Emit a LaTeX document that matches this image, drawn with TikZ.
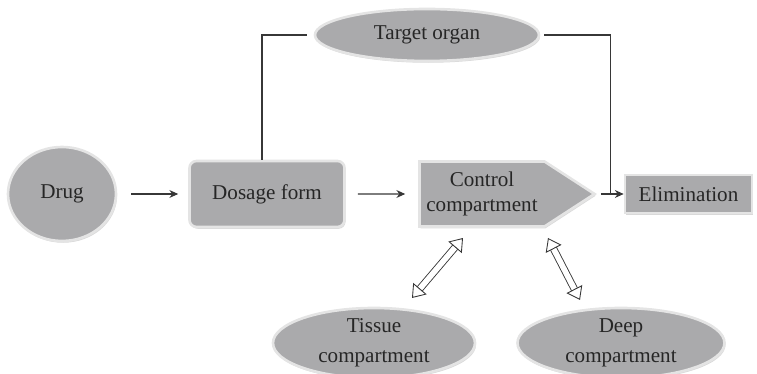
\documentclass[tikz,border=0pt]{standalone}
\usepackage{fontspec}
\setmainfont{Liberation Serif}
\usetikzlibrary{shapes.geometric,shapes.symbols,arrows.meta,shadows,calc}
\definecolor{boxgray}{RGB}{170,170,172}
\definecolor{rimgray}{RGB}{228,228,228}
\definecolor{linegray}{RGB}{55,55,55}

\begin{document}
\begin{tikzpicture}[font=\fontsize{12}{14}\selectfont,
  box/.style={fill=boxgray, draw=rimgray, line width=1.5pt, text=black!85, inner sep=0pt,
    drop shadow={opacity=0.3, shadow xshift=0.6pt, shadow yshift=-1pt}},
  oval/.style={box, ellipse},
  flow/.style={-{Stealth[length=5pt,width=4.5pt]}, draw=linegray, line width=0.6pt},
  link/.style={draw=linegray, line width=0.6pt},
  swap/.style={{Triangle[open,length=7pt,width=10pt]}-{Triangle[open,length=7pt,width=10pt]},
    double=white, double distance=3.2pt, draw=linegray, line width=0.5pt}]
\useasboundingbox (0,0) rectangle (15.14,7.48);

% Drug
\node[oval, minimum width=2.16cm, minimum height=1.88cm] (drug) at (1.24,3.6) {Drug};

% Dosage form
\node[box, rounded corners=4pt, minimum width=3.1cm, minimum height=1.32cm] (dosage) at (5.34,3.6) {Dosage form};

% Control compartment
\node[box, signal, signal to=east, signal pointer angle=66, minimum width=3.5cm, minimum height=1.3cm,
  align=center] (control) at (9.64,3.6) {Control\\compartment};

% Elimination
\node[box, minimum width=2.54cm, minimum height=0.76cm] (elim) at (13.77,3.6) {Elimination};

% Target organ
\node[oval, minimum width=4.48cm, minimum height=1.04cm] (target) at (8.54,6.78) {Target organ};

% Tissue and deep compartments
\node[oval, minimum width=4.04cm, minimum height=1.4cm, align=center] (tissue) at (7.48,0.62) {Tissue\\[3pt]compartment};
\node[oval, minimum width=4.14cm, minimum height=1.4cm, align=center] (deep) at (12.42,0.62) {Deep\\[3pt]compartment};

% Flow
\draw[flow, shorten <=0.28cm, shorten >=0.2cm] (drug) -- (dosage);
\draw[flow, shorten <=0.24cm, shorten >=0.26cm] (dosage) -- (control);
\draw[flow, shorten <=0.08cm] (control.east) -- (elim.west);
\coordinate (join) at ($(control.east)!0.5!(elim.west)$);

% Target organ links
\draw[link] ([xshift=-0.1cm]dosage.north) |- ([xshift=-0.14cm]target.west);
\draw[link] ([xshift=0.08cm]target.east) -| (join);

% Exchange
\coordinate (t1) at (8.24,1.52);
\coordinate (t2) at (9.26,2.72);
\coordinate (d1) at (10.96,2.72);
\coordinate (d2) at (11.6,1.48);
\draw[swap] (t1) -- (t2);
\draw[swap] (d1) -- (d2);

\end{tikzpicture}
\end{document}
